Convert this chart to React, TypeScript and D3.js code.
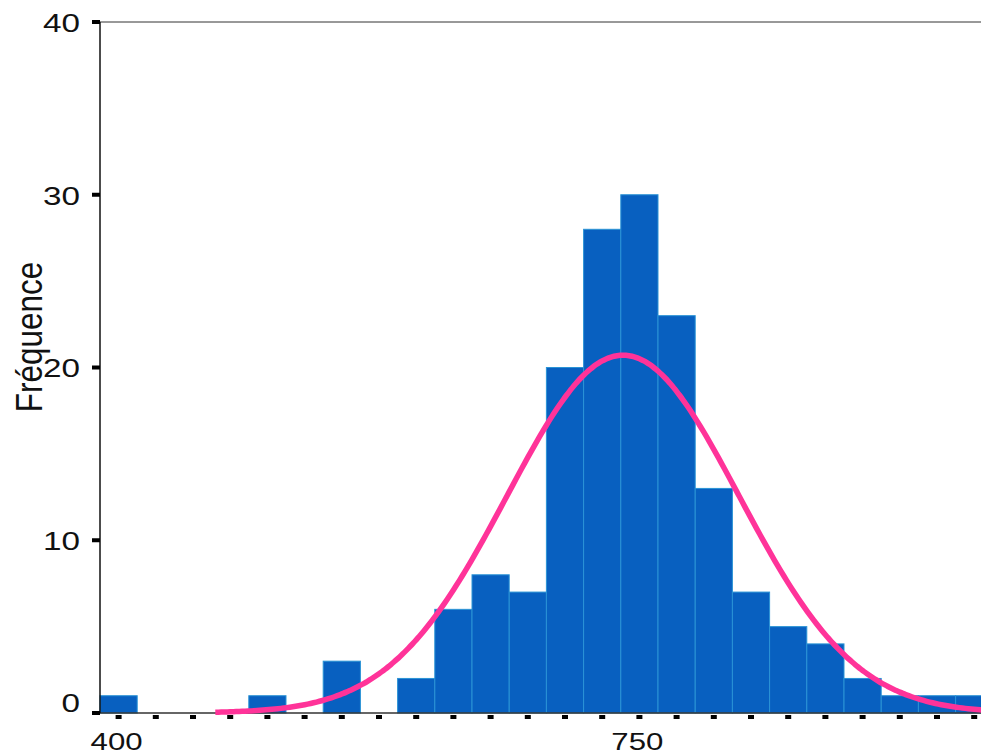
import React from "react";
import * as d3 from "d3";

const binCenters = [400, 425, 450, 475, 500, 525, 550, 575, 600, 625, 650, 675, 700, 725, 750, 775, 800, 825, 850, 875, 900, 925, 950, 975];
const counts = [1, 0, 0, 0, 1, 0, 3, 0, 2, 6, 8, 7, 20, 28, 30, 23, 13, 7, 5, 4, 2, 1, 1, 1];
const yTicks = [0, 10, 20, 30, 40];
const xLabels = [400, 750];
const binWidth = 25;
const fitMean = 739;
const fitSd = 78;
const fitN = 162;
const curveStart = 465;
const curveEnd = 995;
const yTitle = "Fréquence";

const W = 981;
const H = 756;
const left = 100;
const top = 22;
const bottom = 713;
const binPx = 37.2;

export default function App() {
  const x = d3
    .scaleLinear()
    .domain([binCenters[0] - binWidth / 2, binCenters[0] - binWidth / 2 + binWidth])
    .range([left, left + binPx]);
  const y = d3.scaleLinear().domain([0, 40]).range([bottom, top]);

  const pdf = (v: number) =>
    (fitN * binWidth) / (fitSd * Math.sqrt(2 * Math.PI)) *
    Math.exp(-0.5 * ((v - fitMean) / fitSd) ** 2);
  const pts = d3.range(curveStart, curveEnd, 2).map((v) => [v, pdf(v)] as [number, number]);
  const line = d3
    .line<[number, number]>()
    .x((d) => x(d[0]))
    .y((d) => y(d[1]))
    .curve(d3.curveBasis);

  const font = "'Liberation Sans', Arial, sans-serif";

  return (
    <div style={{ position: "fixed", left: 0, top: 0 }}>
      <svg width={W} height={H} style={{ display: "block", background: "#fff" }}>
        <line x1={left} x2={W} y1={top} y2={top} stroke="#333" strokeWidth={1} />
        {binCenters.map((c, i) =>
          counts[i] > 0 ? (
            <rect
              key={i}
              x={x(c - binWidth / 2)}
              y={y(counts[i])}
              width={x(c + binWidth / 2) - x(c - binWidth / 2)}
              height={y(0) - y(counts[i])}
              fill="#0860C0"
              stroke="#2A93D5"
              strokeWidth={1}
            />
          ) : null
        )}
        <line x1={left} x2={W} y1={bottom} y2={bottom} stroke="#333" strokeWidth={1.5} />
        <line x1={left} x2={left} y1={top} y2={bottom} stroke="#111" strokeWidth={1.5} />
        {yTicks.map((t) => (
          <g key={t}>
            <rect x={left - 8} y={y(t) - 2} width={8} height={4} fill="#000" />
            <text
              transform={`translate(80,${Math.min(y(t) + 3, y(0) - 8)}) scale(1.28,1)`}
              textAnchor="end"
              dominantBaseline="middle"
              fontFamily={font}
              fontSize={26}
              fill="#111"
            >
              {t}
            </text>
          </g>
        ))}
        {binCenters.map((c, i) => (
          <rect key={i} x={x(c) - 3} y={bottom + 2} width={6} height={4} fill="#000" />
        ))}
        {xLabels.map((v) => (
          <text
            key={v}
            transform={`translate(${x(v) - 2},750) scale(1.3,1)`}
            textAnchor="middle"
            fontFamily={font}
            fontSize={24}
            fill="#111"
          >
            {v}
          </text>
        ))}
        <path d={line(pts) || ""} fill="none" stroke="#FF3399" strokeWidth={5.5} />
        <text
          transform={`translate(42,337) rotate(-90) scale(0.85,1)`}
          textAnchor="middle"
          fontFamily={font}
          fontSize={37}
          fill="#111"
        >
          {yTitle}
        </text>
      </svg>
    </div>
  );
}
